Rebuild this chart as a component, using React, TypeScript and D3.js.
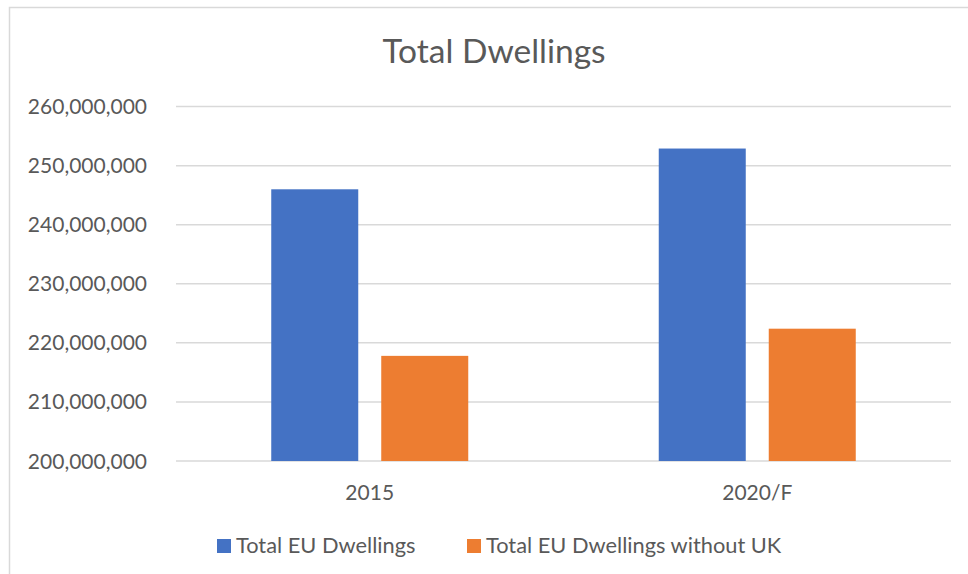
import React from "react";
import * as d3 from "d3";

const title = "Total Dwellings";
const categories = ["2015", "2020/F"];
const seriesNames = ["Total EU Dwellings", "Total EU Dwellings without UK"];
const totalEU = [246000000, 252900000];
const totalEUwithoutUK = [217800000, 222400000];
const yTicks = [200000000, 210000000, 220000000, 230000000, 240000000, 250000000, 260000000];
const colors = ["#4472C4", "#ED7D31"];

const W = 968;
const H = 574;
const FONT = "Lato, 'Open Sans', sans-serif";
const TEXT = "#595959";

export default function App() {
  const y = d3.scaleLinear().domain([200000000, 260000000]).range([461, 106.6]);
  const x0 = d3
    .scaleBand<string>()
    .domain(categories)
    .range([176, 951])
    .paddingInner(0.4916)
    .paddingOuter(0.2458);
  const x1 = d3
    .scaleBand<string>()
    .domain(seriesNames)
    .range([0, x0.bandwidth()])
    .paddingInner(0.209)
    .paddingOuter(0);
  const fmt = d3.format(",");
  const seriesValues = [totalEU, totalEUwithoutUK];

  const legendX = [217, 467];

  return (
    <svg
      width={W}
      height={H}
      style={{ position: "absolute", left: 0, top: 0, display: "block", background: "#fff" }}
      fontFamily={FONT}
    >
      <rect x={0} y={0} width={W} height={H} fill="#fff" />
      {/* chart border */}
      <path d={`M9.5,${H} L9.5,7.5 L${W},7.5`} fill="none" stroke="#d9d9d9" strokeWidth={1.5} />
      <text x={494} y={62.5} textAnchor="middle" fontSize={33.5} fill={TEXT}>
        {title}
      </text>
      {yTicks.map((t) => (
        <g key={t}>
          <line x1={176} x2={951} y1={y(t)} y2={y(t)} stroke="#d9d9d9" strokeWidth={1.5} />
          <text x={147} y={y(t)} dy="0.36em" textAnchor="end" fontSize={21} fill={TEXT}>
            {fmt(t)}
          </text>
        </g>
      ))}
      {categories.map((c, ci) => (
        <g key={c} transform={`translate(${x0(c)},0)`}>
          {seriesNames.map((s, si) => (
            <rect
              key={s}
              x={x1(s)}
              y={y(seriesValues[si][ci])}
              width={x1.bandwidth()}
              height={y(200000000) - y(seriesValues[si][ci])}
              fill={colors[si]}
            />
          ))}
          <text
            x={x0.bandwidth() / 2}
            y={500}
            textAnchor="middle"
            fontSize={21}
            fill={TEXT}
          >
            {c}
          </text>
        </g>
      ))}
      {seriesNames.map((s, si) => (
        <g key={s}>
          <rect x={legendX[si]} y={539} width={14} height={14} fill={colors[si]} />
          <text x={legendX[si] + 19} y={553} fontSize={21.8} fill={TEXT}>
            {s}
          </text>
        </g>
      ))}
    </svg>
  );
}
